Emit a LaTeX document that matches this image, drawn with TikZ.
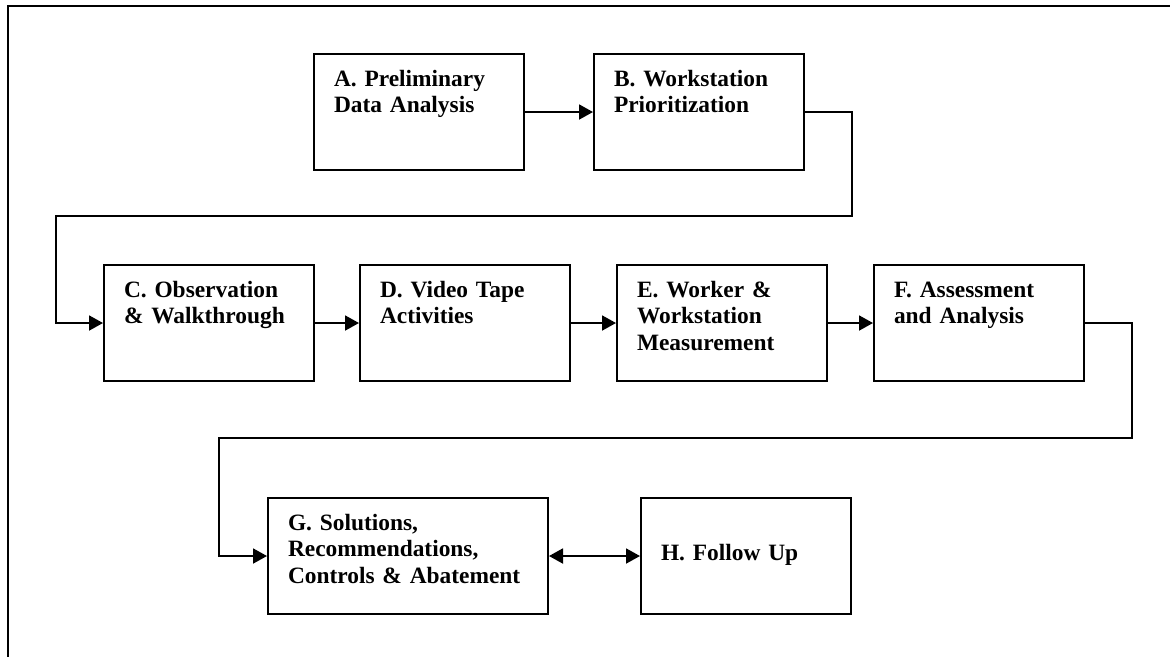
\documentclass[tikz,border=0pt]{standalone}
\usepackage{fontspec}
\setmainfont{Liberation Serif}
\usetikzlibrary{arrows.meta}

\tikzset{
  stage/.style={draw, line width=2pt, anchor=north west, inner xsep=20pt, inner ysep=0pt,
    text width=170pt, align=left, text height=32pt, text depth=84pt,
    font=\bfseries\fontsize{23.4}{26.5}\selectfont},
  flow/.style={line width=1.9pt, -{Triangle[length=14pt,width=15pt]}},
  twoway/.style={line width=1.9pt, {Triangle[length=14pt,width=15pt]}-{Triangle[length=14pt,width=15pt]}}
}

\begin{document}
\begin{tikzpicture}[x=1pt,y=-1pt]
\useasboundingbox (0,0) rectangle (1170,657);

\draw [line width=2.2pt] (1170,6)--(8,6)--(8,657);

\node [stage] (a) at (313,53) {A. Preliminary\\Data Analysis};
\node [stage] (b) at (593,53) {B. Workstation\\Prioritization};

\node [stage] (c) at (103,264) {C. Observation\\\& Walkthrough};
\node [stage] (d) at (359,264) {D. Video Tape\\Activities};
\node [stage] (e) at (616,264) {E. Worker \&\\Workstation\\Measurement};
\node [stage] (f) at (873,264) {F. Assessment\\and Analysis};

\node [stage, text width=240pt] (g) at (267,497) {G. Solutions,\\Recommendations,\\Controls \& Abatement};
\node [stage, text height=62pt, text depth=54pt] (h) at (640,497) {H. Follow Up};

\draw [flow] (a.east)--(b.west);
\draw [flow] (b.east)--++(47,0)|-(56,216)|-(c.west);

\draw [flow] (c.east)--(d.west);
\draw [flow] (d.east)--(e.west);
\draw [flow] (e.east)--(f.west);
\draw [flow] (f.east)--++(47,0)|-(219,438)|-(g.west);

\draw [twoway] (g.east)--(h.west);

\end{tikzpicture}
\end{document}
